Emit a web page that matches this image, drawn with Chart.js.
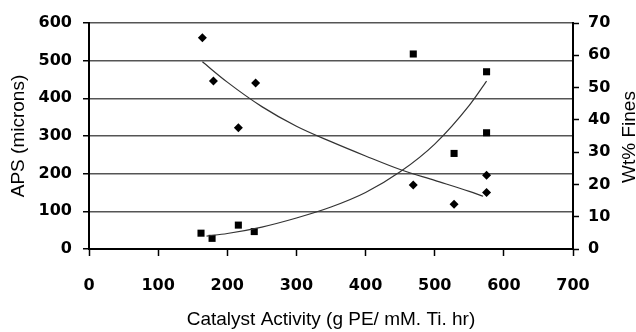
<!DOCTYPE html>
<html>
<head>
<meta charset="utf-8">
<script src="https://cdn.jsdelivr.net/npm/chart.js@4"></script>
<style>
  html, body { margin: 0; padding: 0; background: #fff; }
  #wrap { width: 636px; height: 332px; }
</style>
</head>
<body>
<div id="wrap"><canvas id="myChart"></canvas></div>
<script>
// measured points
const apsX = [164, 180, 216, 241, 469, 528, 575, 575];
const apsVals = [561, 446, 322, 441, 170, 119, 196, 150];
const finesX = [162, 178, 216, 239, 469, 528, 575, 575];
const finesVals = [4.9, 3.3, 7.4, 5.4, 60.4, 29.6, 54.9, 36.0];

// trend lines
const apsFitX = [164, 200, 250, 300, 350, 400, 450, 500, 550, 570];
const apsFit = [497, 443, 378, 326, 285, 247, 211, 182, 153, 140];
const finesFitX = [170, 200, 250, 300, 350, 400, 450, 500, 550, 575];
const finesFit = [4.0, 4.8, 6.8, 9.6, 13.0, 17.5, 23.9, 32.5, 44.5, 52];

// axis labels
const xTitle = 'Catalyst Activity (g PE/ mM. Ti. hr)';
const yTitle = 'APS (microns)';
const y2Title = 'Wt% Fines';

function pts(xs, ys) {
  return xs.map(function(x, i) { return { x: x, y: ys[i] }; });
}

const tickFont = { family: 'DejaVu Sans', size: 16, weight: 'bold' };
const titleFont = { family: 'Liberation Sans', size: 19 };

// right title reads bottom-to-top, chart.js would rotate it the other way
const rightTitle = {
  id: 'rightTitle',
  afterDraw: function(chart) {
    const ctx = chart.ctx;
    ctx.save();
    ctx.translate(630, 137);
    ctx.rotate(-Math.PI / 2);
    ctx.font = '19px "Liberation Sans"';
    ctx.fillStyle = '#000';
    ctx.textAlign = 'center';
    ctx.textBaseline = 'middle';
    ctx.fillText(y2Title, 0, 0);
    ctx.restore();
  }
};

Chart.defaults.color = '#000';

const ctx = document.getElementById('myChart').getContext('2d');

// eslint-disable-next-line no-unused-vars
const chart = new Chart(ctx, {
  type: 'scatter',
  data: {
    datasets: [{
      label: 'APS fit',
      data: pts(apsFitX, apsFit),
      showLine: true,
      borderColor: '#333',
      borderWidth: 1.2,
      pointRadius: 0,
      cubicInterpolationMode: 'monotone',
      yAxisID: 'y',
    },
    {
      label: 'Fines fit',
      data: pts(finesFitX, finesFit),
      showLine: true,
      borderColor: '#333',
      borderWidth: 1.2,
      pointRadius: 0,
      cubicInterpolationMode: 'monotone',
      yAxisID: 'y2',
    },
    {
      label: 'APS',
      data: pts(apsX, apsVals),
      pointStyle: 'rectRot',
      pointRadius: 4.5,
      backgroundColor: '#000',
      borderColor: '#000',
      borderWidth: 0,
      yAxisID: 'y',
    },
    {
      label: 'Wt% Fines',
      data: pts(finesX, finesVals),
      pointStyle: 'rect',
      pointRadius: 5,
      backgroundColor: '#000',
      borderColor: '#000',
      borderWidth: 0,
      yAxisID: 'y2',
    }]
  },
  options: {
    responsive: true,
    maintainAspectRatio: false,
    animation: false,
    layout: { padding: { top: 23, left: 0, right: 0, bottom: 0 } },
    plugins: { legend: { display: false }, tooltip: { enabled: false } },
    scales: {
      x: {
        type: 'linear',
        min: 0,
        max: 700,
        ticks: { stepSize: 100, font: tickFont, padding: 20, maxRotation: 0 },
        grid: { drawOnChartArea: false, tickLength: 7, tickColor: '#000', tickWidth: 1.5 },
        border: { color: '#000', width: 2 },
        title: { display: true, text: xTitle, font: titleFont, padding: { top: 0, bottom: 1 } },
        afterFit: function(scale) { scale.height = 83; }
      },
      y: {
        position: 'left',
        min: 0,
        max: 600,
        ticks: { stepSize: 100, font: tickFont, padding: 11 },
        grid: { color: '#555', lineWidth: 1.5, tickLength: 6, tickColor: '#000', tickWidth: 1.5 },
        border: { color: '#000', width: 2 },
        title: { display: true, text: yTitle, font: titleFont, padding: { top: 7, bottom: 0 } },
        afterFit: function(scale) { scale.width = 89; }
      },
      y2: {
        position: 'right',
        min: 0,
        max: 70,
        ticks: { stepSize: 10, font: tickFont, padding: 9 },
        grid: { drawOnChartArea: false, tickLength: 6, tickColor: '#000', tickWidth: 1.5 },
        border: { color: '#000', width: 2 },
        afterFit: function(scale) { scale.width = 63; }
      }
    }
  },
  plugins: [rightTitle]
});
</script>
</body>
</html>
